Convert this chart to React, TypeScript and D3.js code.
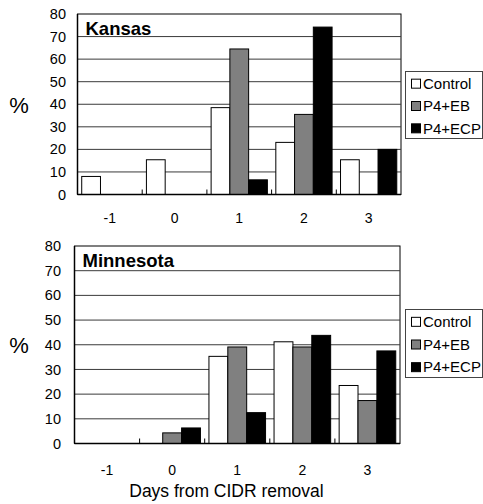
import React from "react";
import { scaleBand, scaleLinear } from "d3";

const days = ["-1", "0", "1", "2", "3"];
const seriesNames = ["Control", "P4+EB", "P4+ECP"];
const seriesFills = ["#ffffff", "#808080", "#000000"];
const yTicks = [0, 10, 20, 30, 40, 50, 60, 70, 80];

const kansasControl = [8, 15.4, 38.5, 23.1, 15.4];
const kansasEB = [0, 0, 64.5, 35.5, 0];
const kansasECP = [0, 0, 6.5, 74.2, 20];

const minnesotaControl = [0, 0, 35.3, 41.2, 23.5];
const minnesotaEB = [0, 4.3, 39.1, 39.1, 17.4];
const minnesotaECP = [0, 6.3, 12.5, 43.8, 37.5];

const font = "'Liberation Sans', Arial, sans-serif";

type PanelProps = {
  title: string;
  values: number[][];
  left: number;
  right: number;
  top: number;
  bottom: number;
  legendTop: number;
  legendBottom: number;
  labelRight: number;
  xLabelY: number;
};

function Panel({
  title,
  values,
  left,
  right,
  top,
  bottom,
  legendTop,
  legendBottom,
  labelRight,
  xLabelY,
}: PanelProps) {
  const xScale = scaleBand<string>().domain(days).range([left, right]);
  // excel style gap width 45%
  const inner = scaleBand<string>()
    .domain(seriesNames)
    .range([0, xScale.bandwidth()])
    .paddingInner(0)
    .paddingOuter(0.225);
  const yScale = scaleLinear().domain([0, 80]).range([bottom, top]);
  const legendStep = (legendBottom - legendTop) / 3;

  return (
    <g>
      {/* plot frame */}
      <rect
        x={left}
        y={top}
        width={right - left}
        height={bottom - top}
        fill="#fff"
        stroke="#000"
        strokeWidth={1}
      />
      {/* gridlines */}
      {yTicks
        .filter((t) => t > 0 && t < 80)
        .map((t) => (
          <line
            key={t}
            x1={left}
            x2={right}
            y1={yScale(t)}
            y2={yScale(t)}
            stroke="#3a3a3a"
            strokeWidth={1}
          />
        ))}
      {/* y tick labels */}
      {yTicks.map((t) => (
        <text
          key={t}
          x={labelRight}
          y={yScale(t)}
          dy="0.35em"
          textAnchor="end"
          fontSize={14.5}
          fontFamily={font}
        >
          {t}
        </text>
      ))}
      <text
        x={19}
        y={(top + bottom) / 2 + 1}
        dy="0.35em"
        textAnchor="middle"
        fontSize={22}
        fontFamily={font}
      >
        %
      </text>
      {/* bars */}
      {days.map((d, i) => (
        <g key={d} transform={`translate(${xScale(d)},0)`}>
          {seriesNames.map((s, j) =>
            values[j][i] > 0 ? (
              <rect
                key={s}
                x={inner(s)}
                y={yScale(values[j][i])}
                width={inner.bandwidth()}
                height={yScale(0) - yScale(values[j][i])}
                fill={seriesFills[j]}
                stroke="#000"
                strokeWidth={1}
              />
            ) : null
          )}
        </g>
      ))}
      {/* axes */}
      <line x1={left} x2={right} y1={bottom} y2={bottom} stroke="#000" strokeWidth={1.5} />
      <line x1={left} x2={left} y1={top} y2={bottom} stroke="#000" strokeWidth={1.5} />
      {days.slice(1).map((d) => (
        <line
          key={d}
          x1={xScale(d)}
          x2={xScale(d)}
          y1={bottom}
          y2={bottom - 5}
          stroke="#000"
          strokeWidth={1}
        />
      ))}
      {days.map((d) => (
        <text
          key={d}
          x={(xScale(d) as number) + xScale.bandwidth() / 2}
          y={xLabelY}
          dy="0.35em"
          textAnchor="middle"
          fontSize={14}
          fontFamily={font}
        >
          {d}
        </text>
      ))}
      <text x={left + 8} y={top + 21} fontSize={18.5} fontWeight="bold" fontFamily={font}>
        {title}
      </text>
      {/* legend */}
      <rect
        x={405.5}
        y={legendTop}
        width={77}
        height={legendBottom - legendTop}
        fill="#fff"
        stroke="#444"
        strokeWidth={1}
      />
      {seriesNames.map((s, j) => {
        const cy = legendTop + legendStep * (j + 0.5) + 1;
        return (
          <g key={s}>
            <rect
              x={411.5}
              y={cy - 4.5}
              width={9}
              height={9}
              fill={seriesFills[j]}
              stroke="#000"
              strokeWidth={1}
            />
            <text x={423} y={cy} dy="0.35em" fontSize={15} fontFamily={font}>
              {s}
            </text>
          </g>
        );
      })}
    </g>
  );
}

export default function App() {
  return (
    <svg
      width={483}
      height={504}
      style={{ position: "absolute", left: 0, top: 0, background: "#fff" }}
    >
      <Panel
        title="Kansas"
        values={[kansasControl, kansasEB, kansasECP]}
        left={77.5}
        right={401}
        top={14}
        bottom={194.5}
        legendTop={71.5}
        legendBottom={138.5}
        labelRight={66}
        xLabelY={218}
      />
      <Panel
        title="Minnesota"
        values={[minnesotaControl, minnesotaEB, minnesotaECP]}
        left={74.5}
        right={400}
        top={246}
        bottom={443.5}
        legendTop={309.5}
        legendBottom={377.5}
        labelRight={61}
        xLabelY={470}
      />
      <text
        x={226.5}
        y={497}
        textAnchor="middle"
        fontSize={17.5}
        fontFamily={font}
      >
        Days from CIDR removal
      </text>
    </svg>
  );
}
